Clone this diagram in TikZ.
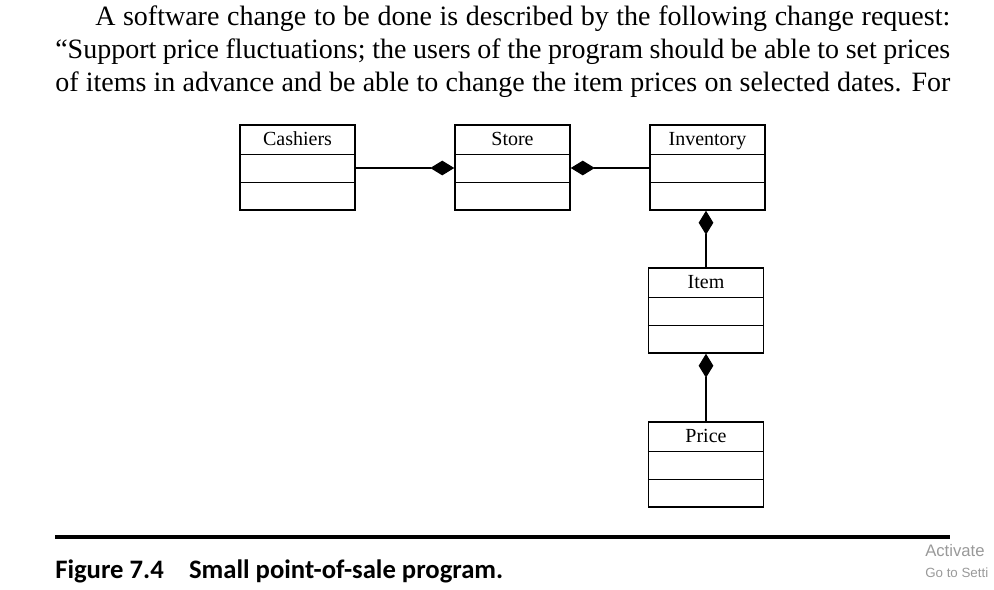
\documentclass[tikz,border=0pt]{standalone}
\usepackage{fontspec}
\setmainfont{Liberation Serif}
\newfontfamily\capfont{Carlito}
\usetikzlibrary{arrows.meta,calc}
\tikzset{
  cls/.style={draw,line width=1.1pt,minimum width=86.25pt,minimum height=63.75pt,inner sep=0pt},
  comp/.style={line width=1.1pt},
  agg/.style={line width=0.8pt,-{Diamond[length=18pt,width=11pt]}},
  body/.style={font=\fontsize{21}{24.75}\selectfont,anchor=base west,inner sep=0pt},
  lbl/.style={font=\fontsize{15}{16}\selectfont,anchor=base,inner sep=0pt}
}
\newcommand{\umlclass}[4]{%
  \node[cls] (#1) at (#2,#3) {};
  \draw[comp] ($(#1.north west)+(0,30)$) -- ($(#1.north east)+(0,30)$);
  \draw[comp] ($(#1.north west)+(0,58)$) -- ($(#1.north east)+(0,58)$);
  \node[lbl] (#1t) at ($(#1.north)+(0,21)$) {#4};
}
\begin{document}
\begin{tikzpicture}[x=0.75pt,y=-0.75pt]
\useasboundingbox (0,0) rectangle (994,589);
\node[body] (l1) at (95,25) {\makebox[641.25pt][s]{A software change to be done is described by the following change request:}};
\node[body] (l2) at (55,58) {\makebox[671.25pt][s]{“Support price fluctuations; the users of the program should be able to set prices}};
\node[body] (l3) at (55,91) {\makebox[671.25pt][s]{of items in advance and be able to change the item prices on selected dates. For}};
\umlclass{cash}{297.5}{167.5}{Cashiers}
\umlclass{store}{512.5}{167.5}{Store}
\umlclass{inv}{707.5}{167.5}{Inventory}
\umlclass{item}{706}{310.5}{Item}
\umlclass{price}{706}{464.5}{Price}
\draw[agg] (cash.east |- 0,168) -- (store.west |- 0,168);
\draw[agg] (inv.west |- 0,168) -- (store.east |- 0,168);
\draw[agg] (item.north) -- (inv.south -| item.north);
\draw[agg] (price.north) -- (item.south);
\draw[line width=3pt] (55,537) coordinate (r1) -- (950,537) coordinate (r2);
\node[anchor=base west,inner sep=0pt,font=\capfont\bfseries\fontsize{20}{22}\selectfont] (cap) at (55,578) {Figure 7.4\hspace{19pt}Small point-of-sale program.};
\node[anchor=base west,inner sep=0pt,text=black!40,font=\fontspec{Liberation Sans}\fontsize{12.5}{14}\selectfont] (w1) at (925,556) {Activate};
\node[anchor=base west,inner sep=0pt,text=black!40,font=\fontspec{Liberation Sans}\fontsize{10}{12}\selectfont] (w2) at (925,577) {Go to Setti};
\end{tikzpicture}
\end{document}
